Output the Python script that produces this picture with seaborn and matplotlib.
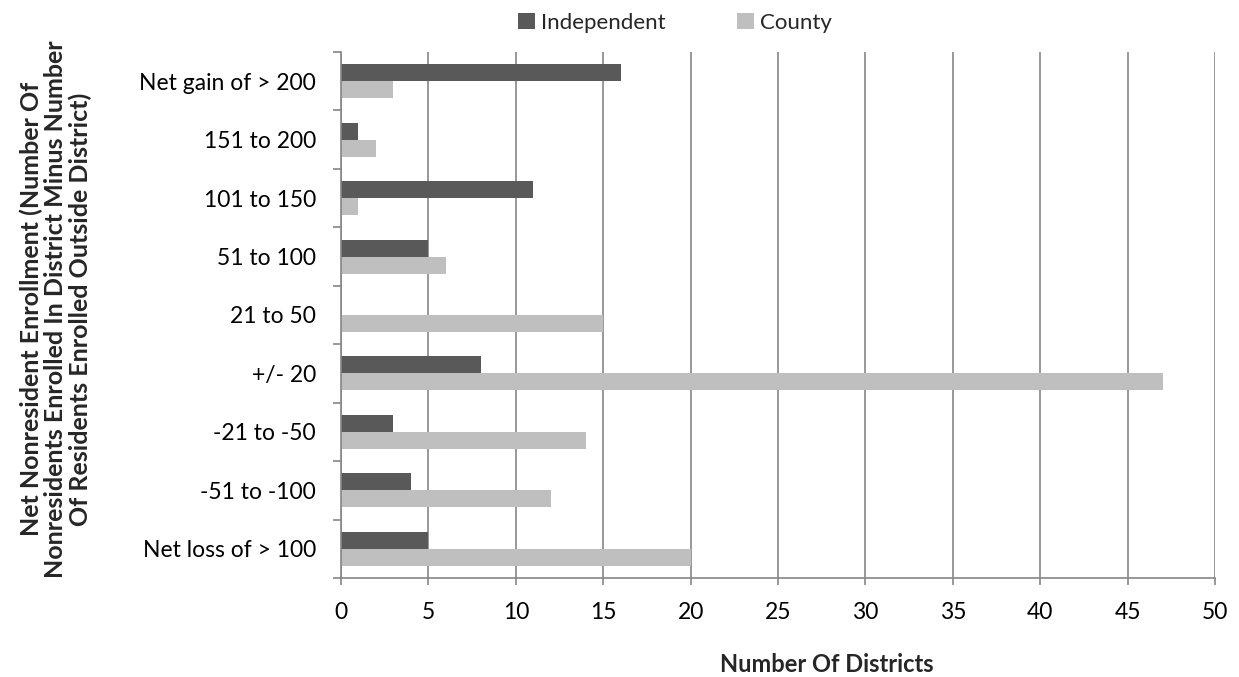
import matplotlib
matplotlib.use("Agg")
import matplotlib.pyplot as plt
import seaborn as sns
import pandas as pd
from matplotlib.patches import Patch

categories = ["Net gain of > 200", "151 to 200", "101 to 150", "51 to 100", "21 to 50",
              "+/- 20", "-21 to -50", "-51 to -100", "Net loss of > 100"]
independent = [16, 1, 11, 5, 0, 8, 3, 4, 5]
county = [3, 2, 1, 6, 15, 47, 14, 12, 20]
series_names = ["Independent", "County"]
colors = ["#595959", "#BFBFBF"]

df = pd.DataFrame({
    "category": categories * 2,
    "value": independent + county,
    "series": [series_names[0]] * len(categories) + [series_names[1]] * len(categories),
})

sns.set_style("white")
plt.rcParams["font.family"] = ["Lato", "DejaVu Sans"]

W, H = 1239, 677
fig = plt.figure(figsize=(W / 100, H / 100), dpi=100)
ax = fig.add_axes([341 / W, 1 - 578 / H, (1215 - 341) / W, (578 - 52) / H])

sns.barplot(data=df, y="category", x="value", hue="series", order=categories,
            hue_order=series_names, palette=colors, orient="h", width=0.58,
            saturation=1, ax=ax, legend=False, edgecolor="none")

ax.set_xlim(0, 50)
ax.set_ylim(len(categories) - 0.5, -0.5)
ax.set_xticks(range(0, 51, 5))
ax.tick_params(axis="x", labelsize=16.5, length=5, color="#868686", width=1.2, pad=12,
               bottom=True, labelcolor="#000000")
ax.set_yticks(range(len(categories)))
ax.set_yticklabels(categories)
ax.tick_params(axis="y", which="major", labelsize=16.5, length=0, pad=18, labelcolor="#000000")
ax.set_yticks([i - 0.5 for i in range(len(categories) + 1)], minor=True)
ax.tick_params(axis="y", which="minor", length=6, color="#868686", width=1.2, left=True)

ax.grid(axis="x", color="#868686", linewidth=1.2)
ax.set_axisbelow(True)
for s in ["top", "right"]:
    ax.spines[s].set_visible(False)
for s in ["left", "bottom"]:
    ax.spines[s].set_color("#868686")
    ax.spines[s].set_linewidth(1.2)

ax.set_xlabel("Number Of Districts", fontsize=17, fontweight="bold")
ax.xaxis.set_label_coords((827 - 341) / (1215 - 341), -(665 - 578) / (578 - 52))
ax.xaxis.label.set_va("center")
ax.set_ylabel("Net Nonresident Enrollment (Number Of\nNonresidents Enrolled In District Minus Number\nOf Residents Enrolled Outside District)",
              fontsize=18, fontweight="bold", linespacing=1.05)
ax.yaxis.set_label_coords(-(341 - 56) / (1215 - 341), (578 - 309) / (578 - 52))
ax.yaxis.label.set_va("center")

handles = [Patch(facecolor=c, edgecolor="none") for c in colors]
fig.legend(handles, series_names, loc="center", bbox_to_anchor=(675 / W, 1 - 23 / H),
           ncol=2, frameon=False, fontsize=16, handlelength=0.75, handleheight=0.75,
           handletextpad=0.3, columnspacing=3.2, borderpad=0)

fig.savefig("out.png", dpi=100)
